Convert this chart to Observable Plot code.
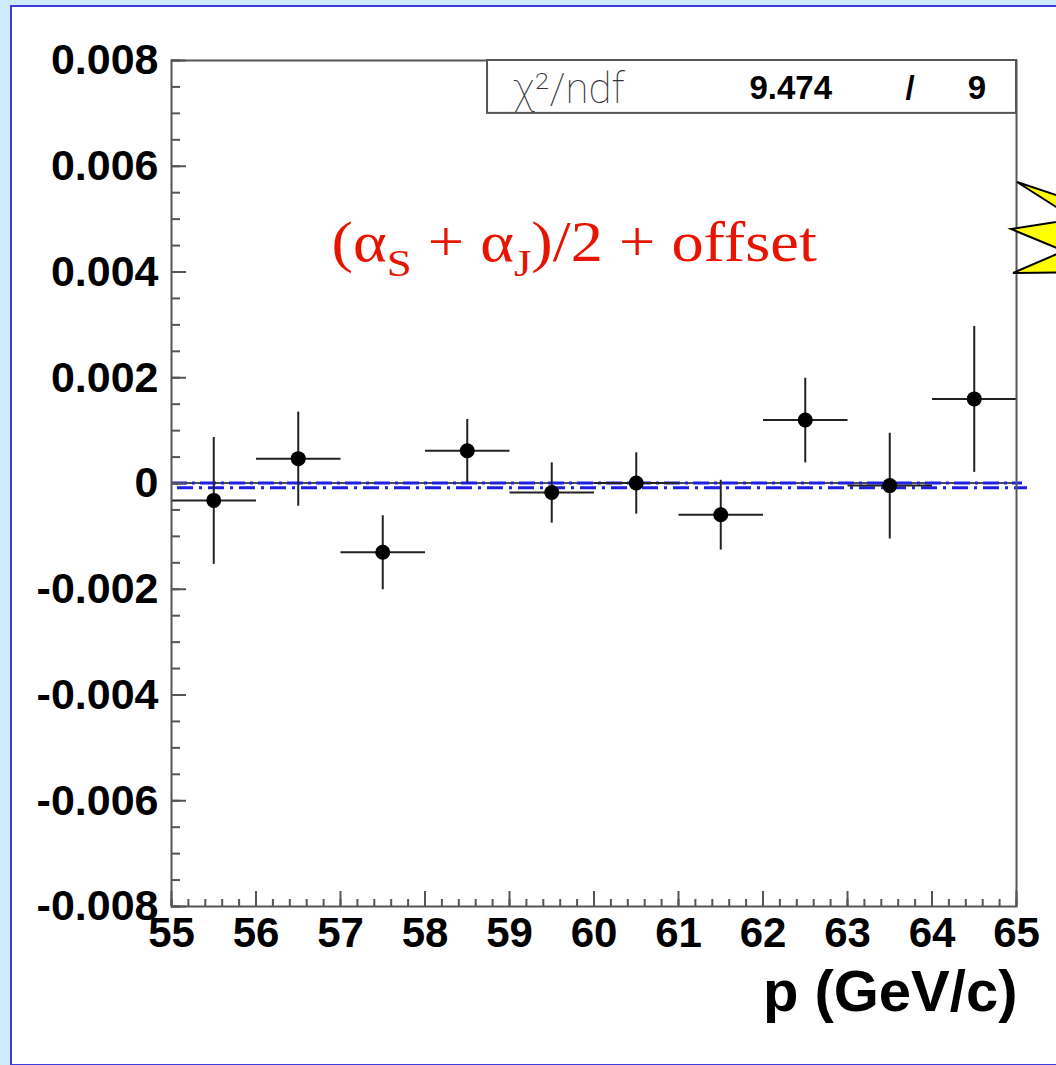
<!DOCTYPE html>
<html><head><meta charset="utf-8">
<script src="https://cdn.jsdelivr.net/npm/d3@7"></script>
<script src="https://cdn.jsdelivr.net/npm/@observablehq/plot@0.6"></script>
<style>
html,body{margin:0;padding:0;background:#cdeafe;}
#page{position:relative;width:1056px;height:1065px;overflow:hidden;background:#cdeafe;}
#panel{position:absolute;left:10px;top:5px;width:1080px;height:1057px;border:2px solid #3c3cdc;background:#fff;}
#chart{position:absolute;left:0;top:0;}
</style></head><body>
<div id="page"><div id="panel"></div><div id="chart"></div></div>
<script>
// ---- data ----
const momentum = [55.5, 56.5, 57.5, 58.5, 59.5, 60.5, 61.5, 62.5, 63.5, 64.5];
const asym     = [-0.00032, 0.00047, -0.00130, 0.00062, -0.00017, 0.00001, -0.00059, 0.00120, -0.00004, 0.00160];
const asymErr  = [0.00120, 0.00089, 0.00070, 0.00060, 0.00057, 0.00058, 0.00066, 0.00080, 0.00100, 0.00138];
const binHalf  = [0.5, 0.5, 0.5, 0.5, 0.5, 0.5, 0.5, 0.5, 0.5, 0.5];
const yMajor = [-0.008, -0.006, -0.004, -0.002, 0, 0.002, 0.004, 0.006, 0.008];
const xMajor = [55, 56, 57, 58, 59, 60, 61, 62, 63, 64, 65];
const fitLevel = 0.00001;     // pol0 fit
const meanLevel = -0.00008;   // reference level
const statLabel = "χ²/ndf";
const chi2 = 9.474;
const ndf = 9;
const xTitle = "p (GeV/c)";

const yMinor = d3.range(-0.008, 0.00801, 0.0005);
const xMinor = d3.range(55, 65.001, 0.2);
const rows = momentum.map((p, i) => ({p, v: asym[i], e: asymErr[i], h: binHalf[i]}));
const fmtY = d => d === 0 ? "0" : d.toFixed(3);
const tickFont = "'Liberation Sans', Arial, Helvetica, sans-serif";
const gray = "#555";
const blue = "#1e1ee6";

const plot = Plot.plot({
  width: 1056, height: 1065,
  marginLeft: 171, marginRight: 40, marginTop: 60, marginBottom: 159,
  style: {background: "transparent", overflow: "visible"},
  x: {domain: [55, 65]},
  y: {domain: [-0.008, 0.008]},
  marks: [
    Plot.ruleY([fitLevel], {stroke: "#111", strokeWidth: 1.5}),
    Plot.ruleY([fitLevel], {stroke: blue, strokeWidth: 3, strokeDasharray: "16,5,3,5", insetRight: -6}),
    Plot.ruleY([meanLevel], {stroke: blue, strokeWidth: 3, strokeDasharray: "16,6,3,6", insetLeft: 6, insetRight: -11}),
    Plot.link(rows, {x1: d => d.p - d.h, x2: d => d.p + d.h, y1: "v", y2: "v", stroke: "#222", strokeWidth: 2}),
    Plot.link(rows, {x1: "p", x2: "p", y1: d => d.v - d.e, y2: d => d.v + d.e, stroke: "#222", strokeWidth: 2}),
    Plot.dot(rows, {x: "p", y: "v", r: 7.5, fill: "#000"}),
    Plot.axisY(yMinor, {tickSize: -9, fill: "none", stroke: gray, strokeWidth: 2, label: null}),
    Plot.axisY(yMajor, {tickSize: -15, fill: "none", stroke: gray, strokeWidth: 2, label: null}),
    Plot.axisY(yMajor, {tickSize: 0, tickPadding: 13, tickFormat: fmtY, fill: "#000", stroke: "none",
      fontSize: 43, fontWeight: "bold", fontFamily: tickFont, label: null}),
    Plot.axisX(xMinor, {tickSize: -7, fill: "none", stroke: gray, strokeWidth: 2, label: null}),
    Plot.axisX(xMajor, {tickSize: -15, fill: "none", stroke: gray, strokeWidth: 2, label: null}),
    Plot.axisX(xMajor, {tickSize: 0, tickPadding: 11, tickFormat: d => String(d), fill: "#000", stroke: "none",
      fontSize: 42, fontWeight: "bold", fontFamily: tickFont, label: null}),
    Plot.frame({stroke: gray, strokeWidth: 2}),
    Plot.text([xTitle], {frameAnchor: "bottom-right", text: d => d, textAnchor: "end", lineAnchor: "bottom",
      dy: 104, dx: 1, fontSize: 58, fontWeight: "bold", fontFamily: tickFont, fill: "#000"})
  ]
});
document.getElementById("chart").append(plot);

const svg = d3.select(plot);
const sx = plot.scale("x"), sy = plot.scale("y");
const X = v => sx.apply(v), Y = v => sy.apply(v);

// stats box (top-right corner of the frame)
const bx0 = X(58.74), bx1 = X(65), by0 = Y(0.008), by1 = Y(0.007);
const box = svg.append("g");
box.append("rect").attr("x", bx0).attr("y", by0).attr("width", bx1 - bx0).attr("height", by1 - by0)
  .attr("fill", "#fff").attr("stroke", gray).attr("stroke-width", 2);
box.append("text").attr("x", bx0 + 26).attr("y", by0 + 43).attr("text-anchor", "start")
  .attr("font-family", "Roboto, 'DejaVu Sans', sans-serif").attr("font-weight", 100)
  .attr("font-size", 42).attr("fill", "#333").text(statLabel);
box.append("text").attr("x", bx0 + 345).attr("y", by0 + 39).attr("text-anchor", "end")
  .attr("font-family", tickFont).attr("font-weight", "bold").attr("font-size", 33).text(chi2.toFixed(3));
box.append("text").attr("x", bx0 + 423).attr("y", by0 + 39).attr("text-anchor", "middle")
  .attr("font-family", tickFont).attr("font-weight", "bold").attr("font-size", 33).text("/");
box.append("text").attr("x", bx0 + 490).attr("y", by0 + 39).attr("text-anchor", "middle")
  .attr("font-family", tickFont).attr("font-weight", "bold").attr("font-size", 33).text(String(ndf));

// red annotation
const ann = svg.append("text").attr("x", 0).attr("y", 0).attr("text-anchor", "start")
  .attr("transform", `translate(${X(56.90)},${Y(0.0042)}) scale(1.15,1)`)
  .attr("font-family", "'Liberation Serif', 'Times New Roman', serif").attr("font-size", 56).attr("fill", "#e61400");
ann.append("tspan").text("(α");
ann.append("tspan").attr("dy", 15).attr("font-size", 39).text("S");
ann.append("tspan").attr("dy", -15).text(" + α");
ann.append("tspan").attr("dy", 15).attr("font-size", 39).text("J");
ann.append("tspan").attr("dy", -15).text(")/2 + offset");

// yellow callout star edge (slide decoration)
svg.append("polygon")
  .attr("points", [[1110, 213], [1017, 182], [1075, 219], [1011, 229], [1064, 251], [1013, 273], [1110, 272]].map(p => p.join(",")).join(" "))
  .attr("fill", "#ffff00").attr("stroke", "#000").attr("stroke-width", 2).attr("stroke-linejoin", "miter");
</script>
</body></html>
